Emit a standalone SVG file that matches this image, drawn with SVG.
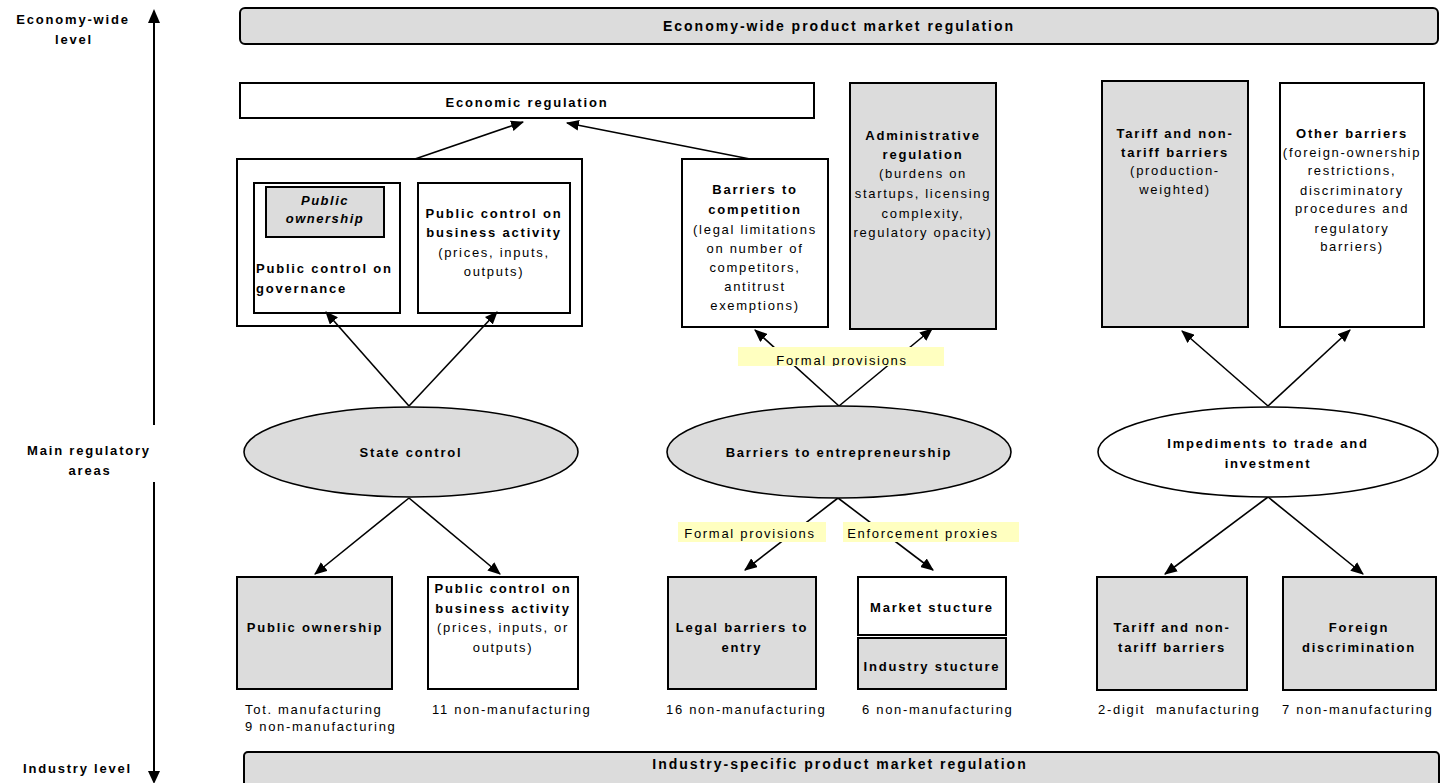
<svg xmlns="http://www.w3.org/2000/svg" width="1446" height="783" viewBox="0 0 1446 783">
<style>
text{font-family:"Liberation Sans",Arial,sans-serif;font-size:13px;fill:#000}
.b{font-weight:bold;letter-spacing:1.8px}
.r{letter-spacing:1.7px}
.bi{font-weight:bold;font-style:italic;letter-spacing:1.5px}
.ban{font-weight:bold;font-size:14px;letter-spacing:2px}
.m{text-anchor:middle}
.box{fill:#fff;stroke:#000;stroke-width:2}
.g{fill:#dcdcdc;stroke:#000;stroke-width:2}
.ell{stroke:#000;stroke-width:1.6}
.hl{fill:#ffffc0}
.conn line{stroke:#000;stroke-width:1.6;marker-end:url(#ah)}
</style>
<defs>
<marker id="ah" viewBox="0 0 12 10" refX="11" refY="5" markerWidth="13" markerHeight="11" markerUnits="userSpaceOnUse" orient="auto">
<path d="M0,0 L12,5 L0,10 Z" fill="#000"/>
</marker>
<clipPath id="fpclip"><rect x="738" y="347" width="206" height="19"/></clipPath>
</defs>
<rect width="1446" height="783" fill="#fff"/>

<g id="axis">
<line x1="154" y1="22" x2="154" y2="425" stroke="#000" stroke-width="2"/>
<polygon points="154,9 148,23 160,23" fill="#000"/>
<line x1="154" y1="482" x2="154" y2="772" stroke="#000" stroke-width="2"/>
<polygon points="148,771 160,771 154,784" fill="#000"/>
<text class="b m" x="73" y="24">Economy-wide</text>
<text class="b m" x="74" y="44">level</text>
<text class="b m" x="89" y="455">Main regulatory</text>
<text class="b m" x="90" y="475">areas</text>
<text class="b" x="23" y="773">Industry level</text>
</g>

<g id="top-banner">
<rect class="g" x="240" y="8" width="1198" height="36" rx="5"/>
<text class="ban m" x="839" y="31">Economy-wide product market regulation</text>
</g>

<g id="economic-regulation">
<rect class="box" x="240" y="83" width="574" height="35"/>
<text class="b m" x="527" y="107">Economic regulation</text>
</g>

<g id="state-control-group">
<rect class="box" x="237" y="159" width="345" height="167"/>
</g>
<g id="public-control-governance">
<rect class="box" x="254" y="183" width="146" height="130"/>
<text class="b" x="256" y="273">Public control on</text>
<text class="b" x="256" y="293">governance</text>
</g>
<g id="public-ownership-inner">
<rect class="g" x="266" y="187" width="118" height="50"/>
<text class="bi m" x="325" y="205">Public</text>
<text class="bi m" x="325" y="223">ownership</text>
</g>
<g id="public-control-business">
<rect class="box" x="418" y="183" width="152" height="130"/>
<text class="b m" x="494" y="218">Public control on</text>
<text class="b m" x="494" y="237">business activity</text>
<text class="r m" x="494" y="257">(prices, inputs,</text>
<text class="r m" x="494" y="276">outputs)</text>
</g>

<g id="barriers-competition">
<rect class="box" x="682" y="159" width="146" height="168"/>
<text class="b m" x="755" y="194">Barriers to</text>
<text class="b m" x="755" y="214">competition</text>
<text class="r m" x="755" y="234">(legal limitations</text>
<text class="r m" x="755" y="253">on number of</text>
<text class="r m" x="755" y="272">competitors,</text>
<text class="r m" x="755" y="291">antitrust</text>
<text class="r m" x="755" y="310">exemptions)</text>
</g>

<g id="administrative-regulation">
<rect class="g" x="850" y="83" width="146" height="246"/>
<text class="b m" x="923" y="140">Administrative</text>
<text class="b m" x="923" y="159">regulation</text>
<text class="r m" x="923" y="178">(burdens on</text>
<text class="r m" x="923" y="198">startups, licensing</text>
<text class="r m" x="923" y="218">complexity,</text>
<text class="r m" x="923" y="237">regulatory opacity)</text>
</g>

<g id="tariff-upper">
<rect class="g" x="1102" y="81" width="146" height="246"/>
<text class="b m" x="1175" y="138">Tariff and non-</text>
<text class="b m" x="1175" y="157">tariff barriers</text>
<text class="r m" x="1175" y="175">(production-</text>
<text class="r m" x="1175" y="194">weighted)</text>
</g>

<g id="other-barriers">
<rect class="box" x="1280" y="83" width="144" height="244"/>
<text class="b m" x="1352" y="138">Other barriers</text>
<text class="r m" x="1352" y="157">(foreign-ownership</text>
<text class="r m" x="1352" y="175">restrictions,</text>
<text class="r m" x="1352" y="195">discriminatory</text>
<text class="r m" x="1352" y="213">procedures and</text>
<text class="r m" x="1352" y="233">regulatory</text>
<text class="r m" x="1352" y="251">barriers)</text>
</g>

<g class="conn" id="connectors">
<line x1="415" y1="159" x2="523" y2="122"/>
<line x1="750" y1="159" x2="567" y2="123"/>
<line x1="409" y1="406" x2="326" y2="312"/>
<line x1="409" y1="406" x2="497" y2="312"/>
<line x1="839" y1="406" x2="755" y2="330"/>
<line x1="839" y1="406" x2="932" y2="329"/>
<line x1="1268" y1="406" x2="1182" y2="331"/>
<line x1="1268" y1="406" x2="1350" y2="330"/>
<line x1="409" y1="498" x2="315" y2="574"/>
<line x1="409" y1="498" x2="500" y2="574"/>
<line x1="838" y1="498" x2="745" y2="570"/>
<line x1="838" y1="498" x2="933" y2="570"/>
<line x1="1268" y1="497" x2="1165" y2="574"/>
<line x1="1268" y1="497" x2="1363" y2="574"/>
</g>

<g id="label-formal-upper">
<rect class="hl" x="738" y="347" width="206" height="19"/>
<text class="r m" x="842" y="365" clip-path="url(#fpclip)">Formal provisions</text>
</g>

<g id="state-control">
<ellipse class="ell" cx="411" cy="452" rx="167" ry="45" fill="#dcdcdc"/>
<text class="b m" x="411" y="457">State control</text>
</g>
<g id="barriers-entrepreneurship">
<ellipse class="ell" cx="839" cy="452" rx="172" ry="46" fill="#dcdcdc"/>
<text class="b m" x="839" y="457">Barriers to entrepreneurship</text>
</g>
<g id="impediments">
<ellipse class="ell" cx="1268" cy="452" rx="170" ry="45" fill="#fff"/>
<text class="b m" x="1268" y="448">Impediments to trade and</text>
<text class="b m" x="1268" y="468">investment</text>
</g>

<g id="label-formal-lower">
<rect class="hl" x="678" y="522" width="148" height="20"/>
<text class="r m" x="750" y="538">Formal provisions</text>
</g>
<g id="label-enforcement">
<rect class="hl" x="843" y="522" width="176" height="20"/>
<text class="r m" x="923" y="538">Enforcement proxies</text>
</g>

<g id="public-ownership-bottom">
<rect class="g" x="237" y="577" width="155" height="112"/>
<text class="b m" x="315" y="632">Public ownership</text>
</g>
<g id="public-control-bottom">
<rect class="box" x="428" y="577" width="150" height="112"/>
<text class="b m" x="503" y="593">Public control on</text>
<text class="b m" x="503" y="613">business activity</text>
<text class="r m" x="503" y="632">(prices, inputs, or</text>
<text class="r m" x="503" y="652">outputs)</text>
</g>
<g id="legal-barriers">
<rect class="g" x="668" y="577" width="148" height="112"/>
<text class="b m" x="742" y="632">Legal barriers to</text>
<text class="b m" x="742" y="652">entry</text>
</g>
<g id="market-structure">
<rect class="box" x="858" y="577" width="148" height="58"/>
<text class="b m" x="932" y="612">Market stucture</text>
</g>
<g id="industry-structure">
<rect class="g" x="858" y="638" width="148" height="51"/>
<text class="b m" x="932" y="671">Industry stucture</text>
</g>
<g id="tariff-bottom">
<rect class="g" x="1097" y="577" width="150" height="113"/>
<text class="b m" x="1172" y="632">Tariff and non-</text>
<text class="b m" x="1172" y="652">tariff barriers</text>
</g>
<g id="foreign-discrimination">
<rect class="g" x="1283" y="577" width="153" height="113"/>
<text class="b m" x="1359" y="632">Foreign</text>
<text class="b m" x="1359" y="652">discrimination</text>
</g>

<g id="coverage-labels">
<text class="r" x="245" y="714">Tot. manufacturing</text>
<text class="r" x="245" y="731">9 non-manufacturing</text>
<text class="r" x="432" y="714">11 non-manufacturing</text>
<text class="r" x="666" y="714">16 non-manufacturing</text>
<text class="r" x="862" y="714">6 non-manufacturing</text>
<text class="r" x="1098" y="714" xml:space="preserve">2-digit  manufacturing</text>
<text class="r" x="1282" y="714">7 non-manufacturing</text>
</g>

<g id="bottom-banner">
<rect class="g" x="244" y="752" width="1195" height="40" rx="4"/>
<text class="ban m" x="840" y="769">Industry-specific product market regulation</text>
</g>
</svg>
